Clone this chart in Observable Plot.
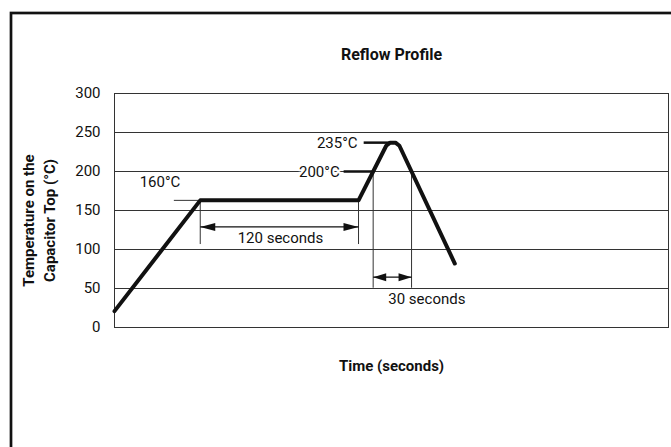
<!DOCTYPE html>
<html><head><meta charset="utf-8">
<script src="https://cdn.jsdelivr.net/npm/d3@7"></script>
<script src="https://cdn.jsdelivr.net/npm/@observablehq/plot@0.6"></script>
<style>
html,body{margin:0;padding:0;background:#fff;}
#chart{width:671px;height:447px;overflow:hidden;}
</style></head><body><div id="chart"></div>
<script>
// ---- data ----
const timeSec = [0, 65, 185, 206, 209, 213, 216, 258];
const tempC   = [21, 163, 163, 233, 237, 237, 233, 82];
const yTicks = [0, 50, 100, 150, 200, 250, 300];
const gridTemps = [50, 100, 150, 200, 250];
const chartTitle = "Reflow Profile";
const xTitle = "Time (seconds)";
const yTitle = "Temperature on the\nCapacitor Top (°C)";

// soak interval (120 seconds)
const soakTimes = [65, 185];
const soakTickTemps = [163, 107];
const soakArrowTemp = 129;
const soakLabel = "120 seconds";
const soakLabelPos = [125.8, 114.7];

// time above 200 °C (30 seconds)
const peakTimes = [196.1, 225.2];
const peakTickTemps = [200, 51];
const peakArrowTemp = 64.5;
const peakLabel = "30 seconds";
const peakLabelPos = [236.8, 35.9];

// temperature callouts
const calloutText = ["160°C", "200°C", "235°C"];
const calloutLabelTime = [34.5, 170.7, 184.3];
const calloutLabelTemp = [186, 198.7, 236];
const calloutAnchor = ["middle", "end", "end"];
const calloutLeaderFrom = [45, 173.7, 188.9];
const calloutLeaderTo = [65, 196.1, 209];
const calloutLeaderTemp = [163, 200, 237];

// ---- build tables ----
const profile = timeSec.map((t, i) => ({t, temp: tempC[i]}));
const thinSegs = [
  {x1: calloutLeaderFrom[0], x2: calloutLeaderTo[0], y1: calloutLeaderTemp[0], y2: calloutLeaderTemp[0]},
  ...soakTimes.map(t => ({x1: t, x2: t, y1: soakTickTemps[0], y2: soakTickTemps[1]})),
  ...peakTimes.map(t => ({x1: t, x2: t, y1: peakTickTemps[0], y2: peakTickTemps[1]}))
];
const thickSegs = [1, 2].map(i => ({x1: calloutLeaderFrom[i], x2: calloutLeaderTo[i], y1: calloutLeaderTemp[i], y2: calloutLeaderTemp[i]}));
const shafts = [
  {x1: soakTimes[0], x2: soakTimes[1], y: soakArrowTemp},
  {x1: peakTimes[0], x2: peakTimes[1], y: peakArrowTemp}
];
const callouts = calloutText.map((text, i) => ({text, t: calloutLabelTime[i], temp: calloutLabelTemp[i], anchor: calloutAnchor[i]}));

// filled arrowhead symbol with tip at origin
const head = (L, h, dir) => ({draw(ctx) { ctx.moveTo(0, 0); ctx.lineTo(-dir * L, -h); ctx.lineTo(-dir * L, h); ctx.closePath(); }});

const font = "Roboto, 'Noto Sans', sans-serif";
const ink = "#111";

const chart = Plot.plot({
  width: 671, height: 447,
  marginLeft: 114, marginRight: 3, marginTop: 93, marginBottom: 120,
  style: {fontFamily: font, fontSize: "15px", color: ink, background: "#fff"},
  x: {domain: [0, 420], axis: null},
  y: {domain: [0, 300], ticks: yTicks, tickSize: 0, tickPadding: 14, label: null},
  marks: [
    Plot.frame({stroke: ink, strokeWidth: 2.7, insetLeft: -103.5, insetTop: -80.5, insetRight: -40, insetBottom: -200}),
    Plot.ruleY(gridTemps, {stroke: "#333", strokeWidth: 1}),
    Plot.frame({stroke: "#333", strokeWidth: 1}),
    Plot.link(thinSegs, {x1: "x1", x2: "x2", y1: "y1", y2: "y2", stroke: "#333", strokeWidth: 1}),
    Plot.link(shafts, {x1: "x1", x2: "x2", y1: "y", y2: "y", stroke: ink, strokeWidth: 1.2}),
    Plot.dot([soakTimes[0]], {x: d => d, y: () => soakArrowTemp, symbol: head(15, 4, -1), fill: ink, stroke: "none"}),
    Plot.dot([soakTimes[1]], {x: d => d, y: () => soakArrowTemp, symbol: head(15, 4, 1), fill: ink, stroke: "none"}),
    Plot.dot([peakTimes[0]], {x: d => d, y: () => peakArrowTemp, symbol: head(13, 4, -1), fill: ink, stroke: "none"}),
    Plot.dot([peakTimes[1]], {x: d => d, y: () => peakArrowTemp, symbol: head(13, 4, 1), fill: ink, stroke: "none"}),
    Plot.text(callouts.filter(d => d.anchor === "middle"), {x: "t", y: "temp", text: "text", textAnchor: "middle", lineAnchor: "middle", fill: ink, stroke: "white", strokeWidth: 4, paintOrder: "stroke", fontSize: 15}),
    Plot.text(callouts.filter(d => d.anchor === "end"), {x: "t", y: "temp", text: "text", textAnchor: "end", lineAnchor: "middle", fill: ink, stroke: "white", strokeWidth: 4, paintOrder: "stroke", fontSize: 15}),
    Plot.link(thickSegs, {x1: "x1", x2: "x2", y1: "y1", y2: "y2", stroke: ink, strokeWidth: 2.5}),
    Plot.text([soakLabel], {x: () => soakLabelPos[0], y: () => soakLabelPos[1], text: d => d, textAnchor: "middle", lineAnchor: "middle", fontSize: 15, fill: ink}),
    Plot.text([peakLabel], {x: () => peakLabelPos[0], y: () => peakLabelPos[1], text: d => d, textAnchor: "middle", lineAnchor: "middle", fontSize: 15, fill: ink}),
    Plot.line(profile, {x: "t", y: "temp", stroke: ink, strokeWidth: 4, strokeLinejoin: "round", strokeLinecap: "round"}),
    Plot.text([chartTitle], {frameAnchor: "top", dy: -38.5, text: d => d, textAnchor: "middle", lineAnchor: "middle", fontWeight: "bold", fontSize: 16, fill: ink}),
    Plot.text([xTitle], {frameAnchor: "bottom", dy: 39, text: d => d, textAnchor: "middle", lineAnchor: "middle", fontWeight: "bold", fontSize: 15, fill: ink}),
    Plot.text([yTitle], {frameAnchor: "left", rotate: -90, dx: -76.3, dy: 10, text: d => d, textAnchor: "middle", lineAnchor: "middle", lineHeight: 1.4, fontWeight: "bold", fontSize: 15, fill: ink})
  ]
});
document.getElementById("chart").appendChild(chart);
</script>
</body></html>
